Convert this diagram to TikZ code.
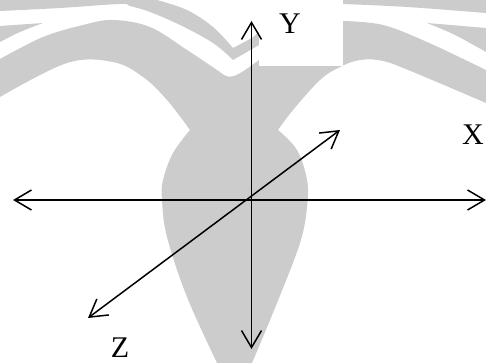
\documentclass[tikz,border=0pt]{standalone}
\usepackage{fontspec}
\setmainfont{Liberation Serif}
\usetikzlibrary{arrows.meta}
\tikzset{
  wm/.style={fill=black!20,draw=none},
  axisline/.style={line width=1.5pt,{Straight Barb[length=17pt,width=20pt,line width=1.5pt]}-{Straight Barb[length=17pt,width=20pt,line width=1.5pt]}},
  lbl/.style={font=\fontsize{30}{30}\selectfont,inner sep=0pt,text=black},
  sm/.style={smooth,tension=0.6}
}
\begin{document}
\begin{tikzpicture}[x=1pt,y=-1pt]
\useasboundingbox (0,0) rectangle (486,363);
% top-left gray and the band running down to the notch
\fill[wm] (0,0) -- (157,0) -- plot[sm] coordinates {(157,0) (187,10) (213,27) (233,48)}
  -- (252,38) -- (259,32) -- (259,45)
  -- plot[sm] coordinates {(233,60) (213,43) (180,25) (150,12) (130,6) (120,4) (60,8) (0,11)} -- cycle;
% top-right gray
\fill[wm] (343,0) -- (486,0) -- (486,13) -- plot[sm] coordinates {(486,13) (407,7) (343,4)} -- cycle;
% wedges
\fill[wm] (0,26) -- (43,23) -- plot[sm] coordinates {(43,23) (20,32) (0,42)} -- cycle;
\fill[wm] (486,28) -- (427,23) -- plot[sm] coordinates {(427,23) (455,35) (486,52)} -- cycle;
% wings and body
\fill[wm] plot[sm] coordinates {(0,59) (43,37) (83,25) (113,20) (150,27) (187,50) (217,70) (226,76) (234,76) (245,70) (259,60)}
  -- (343,21) -- plot[sm] coordinates {(343,21) (383,25) (427,42) (486,70)}
  -- (486,103) -- plot[sm] coordinates {(486,103) (413,72) (383,61) (360,60) (340,67) (320,80) (293,110) (278,130)}
  -- plot[sm] coordinates {(278,130) (297,150) (307,180) (307,207) (300,243) (277,303) (252,363)}
  -- (217,363) -- plot[sm] coordinates {(217,363) (187,297) (167,237) (162,200) (163,180) (173,153) (190,130)}
  -- plot[sm] coordinates {(190,130) (167,100) (143,77) (113,62) (67,63) (0,97)} -- cycle;
% white patch behind Y
\fill[white] (259,0) rectangle (343,66);
\coordinate (xl) at (13,200);
\coordinate (xr) at (486,200);
\coordinate (yt) at (251.5,21);
\coordinate (yb) at (251.5,349);
\coordinate (zb) at (88,318);
\coordinate (zt) at (340,130);
\draw[axisline] (xl) -- (xr);
\draw[axisline] (yb) -- (yt);
\draw[axisline] (zb) -- (zt);
\node[lbl] (ylab) at (290,24) {Y};
\node[lbl] (xlab) at (473,135) {X};
\node[lbl] (zlab) at (120,348) {Z};
\end{tikzpicture}
\end{document}
